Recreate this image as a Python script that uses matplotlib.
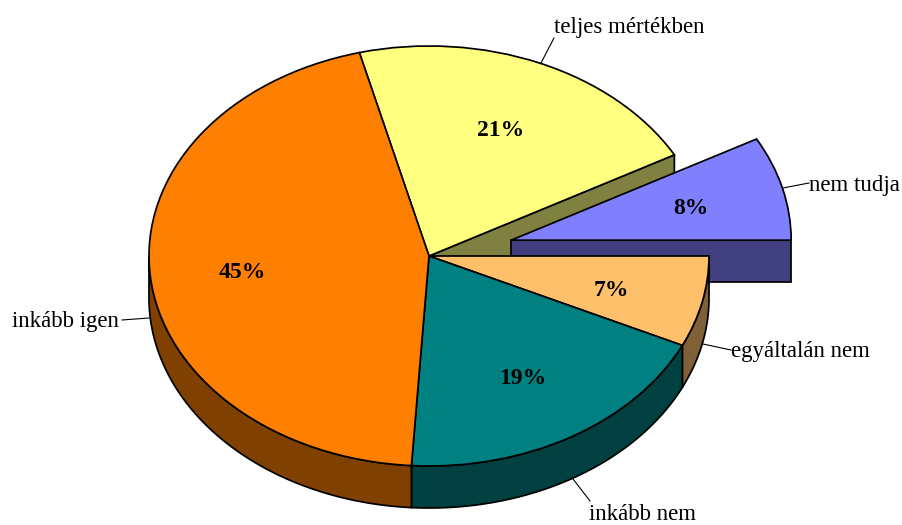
import numpy as np
import matplotlib
matplotlib.use("Agg")
import matplotlib.pyplot as plt
from matplotlib.colors import to_rgb
from matplotlib.transforms import Affine2D

categories = ["teljes mértékben", "nem tudja", "egyáltalán nem", "inkább nem", "inkább igen"]
values = [21, 8, 7, 19, 45]
colors = ["#FFFF80", "#8080FF", "#FFC06C", "#008080", "#FF8000"]
explode = [0, 0.303, 0, 0, 0]

W, H = 903, 525
CX, CY, RX, RY = 429, 256, 280, 210
DEPTH = 42 / RY
START = 104.4
LW = 1.25

plt.rcParams["font.family"] = ["Liberation Serif", "DejaVu Serif"]
fig = plt.figure(figsize=(W / 100, H / 100), dpi=100, facecolor="white")
ax = fig.add_axes([0, 0, 1, 1])
wedges, _ = ax.pie(values, colors=colors, explode=explode, startangle=START,
                   counterclock=False, frame=True,
                   wedgeprops=dict(edgecolor="black", linewidth=LW))
ax.set_aspect("auto")
ax.set_xlim(-CX / RX, (W - CX) / RX)
ax.set_ylim((CY - H) / RY, CY / RY)
ax.axis("off")


def dark(c):
    return tuple(v * 0.5 for v in to_rgb(c))


def radial_face(w, ang, color, z):
    cx, cy = w.center
    a = np.radians(ang)
    ex, ey = cx + np.cos(a), cy + np.sin(a)
    ax.fill([cx, ex, ex, cx], [cy, ey, ey - DEPTH, cy - DEPTH], facecolor=dark(color),
            edgecolor="black", linewidth=LW, zorder=z)


def rim(w, color, z):
    lo, hi = max(w.theta1, -180), min(w.theta2, 0)
    if lo >= hi:
        return
    t = np.radians(np.linspace(lo, hi, 200))
    cx, cy = w.center
    x = cx + np.cos(t)
    y = cy + np.sin(t)
    ax.fill(np.r_[x, x[::-1]], np.r_[y, y[::-1] - DEPTH], facecolor=dark(color),
            edgecolor="black", linewidth=LW, zorder=z)


radial_face(wedges[0], wedges[0].theta1, colors[0], 1)
radial_face(wedges[1], wedges[1].theta1, colors[1], 2)
wedges[1].set_zorder(3)
for w, c in zip(wedges, colors):
    if w is not wedges[1]:
        rim(w, c, 4)
        w.set_zorder(5)

pix = Affine2D().scale(1, -1).translate(0, H)

label_pos = [(554, 28, "left"), (809, 186, "left"), (731, 352, "left"), (589, 515, "left"), (12, 322, "left")]
leaders = [((541, 63), (554, 38)), ((783, 188), (809, 183)), ((703, 344), (731, 350)),
           ((573, 479), (590, 501)), ((149, 318), (122, 320))]
pct_pos = [(501, 131), (691, 209), (611, 290), (523, 379), (242, 273)]

for name, v, (lx, ly, ha), seg, (px, py) in zip(categories, values, label_pos, leaders, pct_pos):
    ax.text(lx, ly, name, transform=pix, ha=ha, va="center", fontsize=16.5, color="black", zorder=8)
    ax.plot([seg[0][0], seg[1][0]], [seg[0][1], seg[1][1]], transform=pix, color="black",
            linewidth=0.8, zorder=3.5, clip_on=False)
    ax.text(px, py, f"{v}%", transform=pix, ha="center", va="center", fontsize=17,
            fontweight="bold", color="black", zorder=8)

fig.savefig("out.png", dpi=100, facecolor="white")
